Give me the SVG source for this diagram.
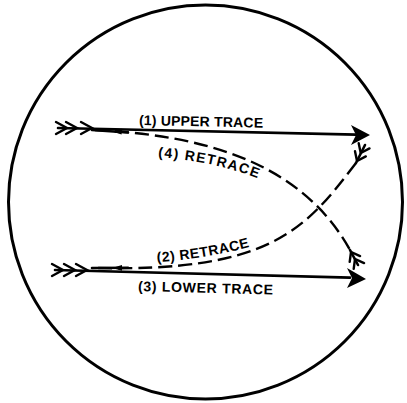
<svg xmlns="http://www.w3.org/2000/svg" width="407" height="403" viewBox="0 0 407 403">
<style>
.solid{fill:none;stroke:#000;stroke-width:2.6;stroke-linecap:round;stroke-linejoin:round}
.dash{fill:none;stroke:#000;stroke-width:2.4;stroke-dasharray:14 6}
.chev{fill:none;stroke:#000;stroke-width:2.4;stroke-linecap:round;stroke-linejoin:miter}
.lbl{font-family:"Liberation Sans",Arial,sans-serif;font-weight:bold;font-size:14px;fill:#000}
</style>
<defs>
<path id="p4text" d="M158,157 Q215,161 262,180"/>
<path id="p2text" d="M157,262 Q205,259 253,246"/>
</defs>
<circle cx="205.5" cy="202" r="197" fill="none" stroke="#000" stroke-width="3"/>
<g id="connectors">
<g id="upper-trace">
<path class="solid" d="M58,128 L356,134.6"/>
<path d="M370,135 L351,125 L356,135 L351,145 Z" fill="#000"/>
<path class="chev" d="M56,122 L67,128 L56,134 M66,122 L77,128 L66,134 M81,122 L92,128 L81,134"/>
</g>
<g id="lower-trace">
<path class="solid" d="M55,270 L350,277.6"/>
<path d="M366,279 L347,268 L352,278 L347,288 Z" fill="#000"/>
<path class="chev" d="M52,264 L63,270 L52,276 M64,264 L75,270 L64,276 M76,264 L87,270 L76,276"/>
</g>
<g id="retrace-2">
<path class="dash" d="M356,163 C305,230 270,272 95,268"/>
<path class="solid" d="M365,145 L356,163"/>
<path class="chev" d="M365.8,156.4 L357,161 L355,151.2 M369.5,148.4 L360.7,153 L358.7,143.2"/>
<path class="solid" d="M92,268 L128,267.8"/>
<path d="M112,267.9 L122,264.9 L122,270.7 Z" fill="#000"/>
</g>
<g id="retrace-4">
<path class="dash" d="M95,130 C200,135 300,160 350,250"/>
<path class="solid" d="M350,250 L358,265"/>
<path class="chev" d="M360.1,256.1 L351,252 L349.7,261.9 M364.1,263.1 L355,259 L353.7,268.9"/>
<path class="solid" d="M92,130 L128,132.5"/>
<path d="M112,131.6 L122,128.8 L121.6,134.6 Z" fill="#000"/>
</g>
</g>
<g id="label-1"><text class="lbl" x="139" y="125" textLength="124" lengthAdjust="spacing" transform="rotate(1.2 139 125)">(1) UPPER TRACE</text></g>
<g id="label-4"><text class="lbl"><textPath href="#p4text" textLength="102" lengthAdjust="spacing">(4) RETRACE</textPath></text></g>
<g id="label-2"><text class="lbl"><textPath href="#p2text" textLength="94" lengthAdjust="spacing">(2) RETRACE</textPath></text></g>
<g id="label-3"><text class="lbl" x="138" y="291" textLength="135" lengthAdjust="spacing" transform="rotate(1.5 138 291)">(3) LOWER TRACE</text></g>
</svg>
